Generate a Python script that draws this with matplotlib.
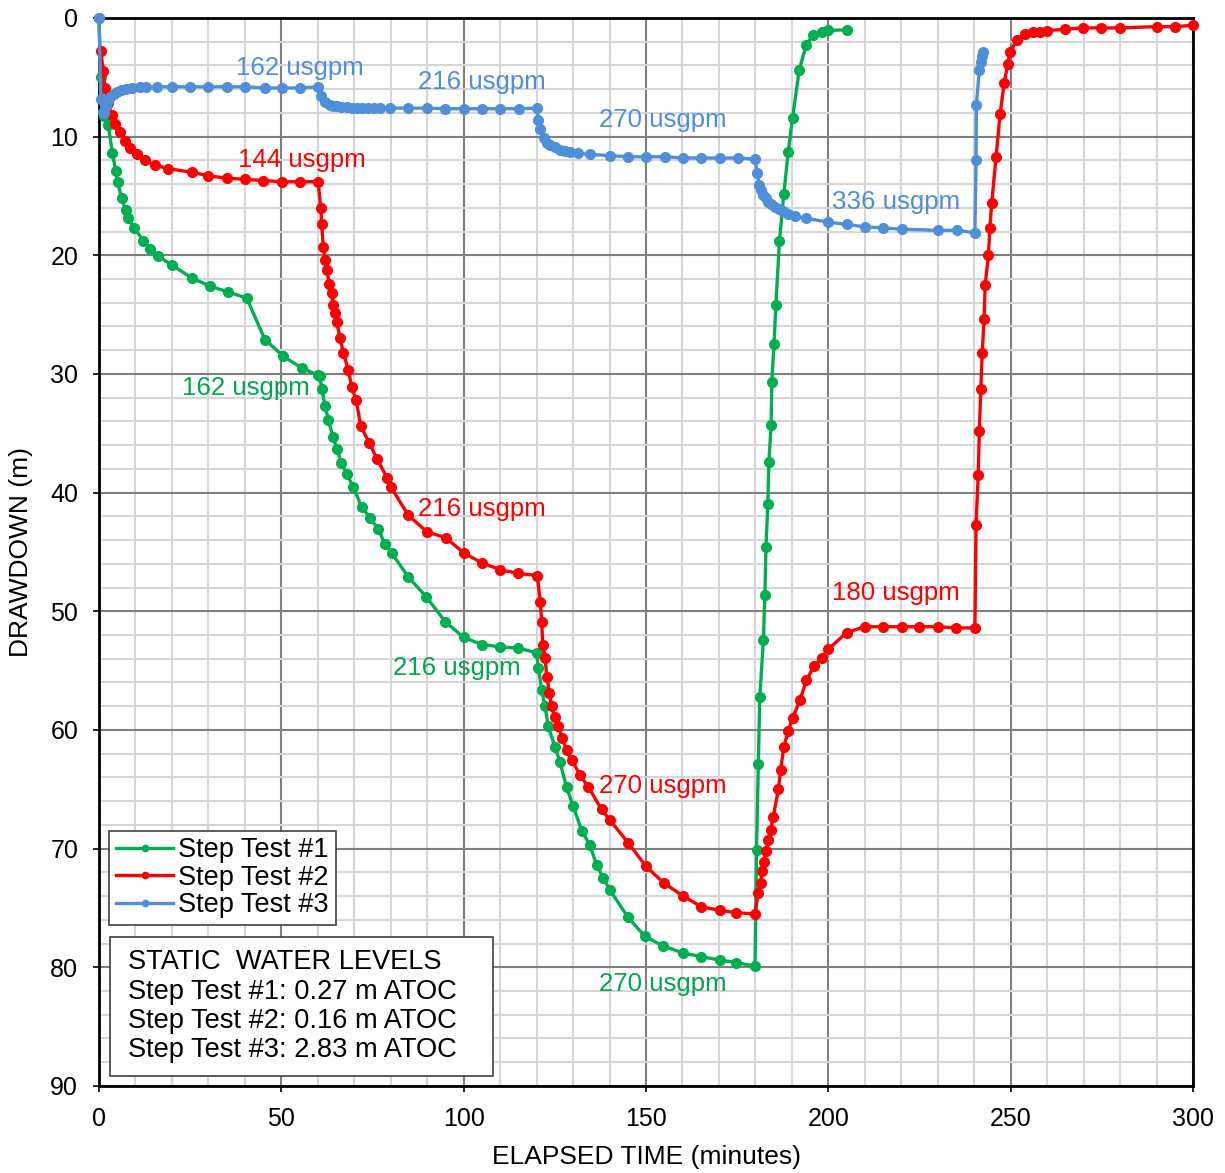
import matplotlib.pyplot as plt
from matplotlib.ticker import MultipleLocator
from matplotlib.patches import Rectangle

plt.rcParams['font.family'] = ['Liberation Sans', 'DejaVu Sans']

# (elapsed minutes, drawdown m)
test1 = [(0, 0), (0.5, 5.0), (1.0, 7.0), (1.5, 8.3), (2.5, 9.0), (3.7, 11.4), (4.6, 12.9),
         (5.1, 13.8), (6.2, 15.2), (7.3, 16.2), (8.0, 16.9), (9.7, 17.7), (12.2, 18.8),
         (14.0, 19.5), (16.3, 20.1), (19.9, 20.8), (25.4, 21.9), (30.4, 22.6), (35.5, 23.1),
         (40.5, 23.6), (45.5, 27.1), (50.5, 28.5), (55.6, 29.5), (60.1, 30.1),
         (60.6, 30.2), (61.1, 31.3), (62.0, 32.7), (62.9, 33.9), (64.2, 35.3), (65.2, 36.3),
         (66.5, 37.5), (67.9, 38.4), (69.7, 39.5), (72.0, 41.2), (74.3, 42.1), (76.6, 43.1),
         (78.4, 44.3), (80.3, 45.1), (84.8, 47.1), (89.8, 48.8), (95.0, 50.9), (100.0, 52.2),
         (105.0, 52.8), (110.0, 53.0), (115.0, 53.1), (120.0, 53.5),
         (120.5, 54.8), (121.4, 56.6), (122.3, 58.0), (123.2, 59.7), (125.0, 61.4),
         (126.4, 62.7), (128.2, 64.8), (130.0, 66.4), (132.4, 68.5), (134.6, 69.7),
         (136.5, 71.4), (138.3, 72.5), (140.1, 73.5), (145.1, 75.8), (149.7, 77.4),
         (154.7, 78.2), (160.2, 78.8), (165.2, 79.1), (170.3, 79.4), (174.8, 79.6), (179.9, 79.9),
         (180.3, 70.1), (180.8, 62.9), (181.2, 57.2), (182.2, 52.4), (182.6, 48.6),
         (182.9, 44.6), (183.4, 41.0), (183.7, 37.4), (184.3, 34.3), (184.5, 30.7),
         (185.1, 27.5), (185.6, 24.2), (186.6, 18.8), (187.8, 14.8), (189.0, 11.3),
         (190.2, 8.4), (192.0, 4.4), (193.9, 2.3), (195.9, 1.4), (198.2, 1.15),
         (200.0, 1.05), (205.0, 1.0)]

test2 = [(0.5, 2.8), (1.2, 4.5), (1.6, 5.9), (2.6, 7.2), (3.5, 8.2), (4.4, 8.9), (5.8, 9.6),
         (7.1, 10.4), (8.5, 11.0), (10.3, 11.5), (12.6, 12.0), (15.4, 12.4), (19.0, 12.7),
         (25.4, 13.0), (30.0, 13.3), (35.0, 13.5), (40.0, 13.6), (45.1, 13.7), (50.1, 13.8),
         (55.1, 13.8), (60.1, 13.8),
         (60.8, 16.0), (61.1, 17.4), (61.5, 19.3), (62.0, 20.4), (62.4, 21.2), (63.2, 22.4),
         (63.8, 23.2), (64.3, 24.2), (64.7, 24.9), (65.2, 25.6), (66.1, 27.0), (67.0, 28.2),
         (68.4, 29.7), (69.3, 31.1), (70.5, 32.2), (71.8, 34.4), (74.1, 35.8), (76.3, 37.2),
         (79.1, 38.8), (80.0, 39.5), (84.8, 41.9), (89.9, 43.3), (95.1, 43.8), (100.1, 45.1),
         (104.9, 45.9), (110.0, 46.5), (115.0, 46.8), (120.2, 47.0),
         (121.0, 49.2), (121.4, 50.9), (121.7, 52.8), (122.3, 53.9), (122.8, 55.5),
         (123.5, 56.9), (124.1, 58.0), (125.0, 58.9), (125.9, 59.7), (127.1, 60.7),
         (128.2, 61.7), (129.6, 62.5), (131.9, 63.8), (134.2, 64.8), (137.8, 66.7),
         (140.1, 67.6), (145.1, 69.5), (150.0, 71.5), (154.9, 72.9), (160.2, 74.0),
         (165.2, 74.9), (170.3, 75.2), (174.8, 75.4), (179.9, 75.5),
         (180.8, 73.7), (181.4, 72.9), (181.9, 71.9), (182.3, 71.1), (182.9, 70.2),
         (183.5, 69.3), (184.2, 68.4), (184.9, 67.3), (186.3, 65.0), (186.9, 63.4),
         (187.8, 61.4), (189.0, 60.1), (190.2, 59.0), (192.2, 57.5), (194.0, 55.8),
         (196.1, 54.6), (198.2, 53.9), (200.0, 53.2), (205.0, 51.8), (210.0, 51.3),
         (215.1, 51.3), (220.1, 51.3), (224.8, 51.3), (230.1, 51.3), (235.0, 51.4), (240.2, 51.4),
         (240.5, 42.7), (241.1, 38.5), (241.4, 34.8), (241.8, 31.3), (242.2, 28.2),
         (242.7, 25.4), (243.0, 22.5), (243.9, 20.0), (244.3, 17.7), (244.8, 15.6),
         (246.0, 11.7), (247.1, 8.1), (248.2, 5.5), (249.2, 3.9), (249.8, 2.9), (251.6, 1.9),
         (253.9, 1.35), (256.2, 1.2), (258.0, 1.15), (259.9, 1.07), (265.0, 0.95),
         (269.9, 0.84), (274.9, 0.84), (279.9, 0.84), (290.0, 0.73), (295.0, 0.73), (300.0, 0.62)]

test3 = [(0, 0), (0.5, 6.8), (1.0, 7.9), (1.5, 8.0), (2.0, 7.4), (2.5, 7.0), (3.0, 6.7),
         (4.0, 6.4), (5.0, 6.2), (6.0, 6.05), (7.5, 5.95), (9.0, 5.9), (11.2, 5.85),
         (13.0, 5.8), (15.8, 5.8), (19.9, 5.8), (25.0, 5.8), (30.0, 5.8), (35.0, 5.8),
         (40.0, 5.8), (45.5, 5.9), (50.1, 5.9), (55.1, 5.9), (60.1, 5.8),
         (61.0, 6.6), (61.9, 7.05), (63.3, 7.3), (64.2, 7.4), (65.2, 7.45), (66.5, 7.5),
         (67.9, 7.5), (69.3, 7.55), (70.7, 7.55), (72.2, 7.6), (73.8, 7.6), (75.5, 7.6),
         (77.0, 7.6), (79.8, 7.6), (84.8, 7.6), (89.9, 7.6), (95.0, 7.65), (100.0, 7.65),
         (105.1, 7.65), (110.0, 7.65), (115.2, 7.65), (120.0, 7.6),
         (120.5, 8.6), (121.0, 9.4), (121.9, 10.1), (122.8, 10.5), (123.7, 10.7),
         (125.0, 10.9), (126.4, 11.1), (127.8, 11.2), (129.1, 11.3), (131.4, 11.4),
         (134.6, 11.5), (140.1, 11.6), (145.0, 11.7), (150.0, 11.7), (155.2, 11.7),
         (160.1, 11.8), (165.0, 11.8), (170.3, 11.8), (175.2, 11.8), (179.9, 11.9),
         (180.5, 13.1), (181.1, 14.1), (181.6, 14.5), (182.2, 14.9), (182.8, 15.2),
         (183.5, 15.5), (184.4, 15.7), (185.4, 15.9), (186.5, 16.1), (187.6, 16.3),
         (189.0, 16.5), (190.8, 16.7), (194.0, 16.9), (200.0, 17.2), (205.0, 17.4),
         (210.0, 17.6), (215.1, 17.7), (220.1, 17.8), (230.1, 17.9), (235.2, 17.9), (240.2, 18.1),
         (240.5, 12.0), (240.6, 7.3), (241.4, 4.4), (241.8, 3.7), (242.0, 3.2), (242.3, 2.9)]

series = [(test1, '#00B050', 'Step Test #1'),
          (test2, '#FF0000', 'Step Test #2'),
          (test3, '#4F8FDA', 'Step Test #3')]

# rate labels: (x, y, text, colour)
rate_labels = [(55.1, 4.2, '162 usgpm', '#4F8FDA'), (105.0, 5.4, '216 usgpm', '#4F8FDA'),
               (154.7, 8.6, '270 usgpm', '#4F8FDA'), (218.5, 15.5, '336 usgpm', '#4F8FDA'),
               (55.7, 12.0, '144 usgpm', '#FF0000'), (105.0, 41.4, '216 usgpm', '#FF0000'),
               (154.7, 64.7, '270 usgpm', '#FF0000'), (218.5, 48.5, '180 usgpm', '#FF0000'),
               (40.3, 31.2, '162 usgpm', '#00A650'), (98.2, 54.8, '216 usgpm', '#00A650'),
               (154.7, 81.4, '270 usgpm', '#00A650')]

static_text = ('STATIC  WATER LEVELS\n'
               'Step Test #1: 0.27 m ATOC\n'
               'Step Test #2: 0.16 m ATOC\n'
               'Step Test #3: 2.83 m ATOC')

fig = plt.figure(figsize=(12.25, 11.73), dpi=100)
ax = fig.add_axes([0.0808, 0.0742, 0.8931, 0.9105])

for data, color, label in series:
    t, d = zip(*data)
    ax.plot(t, d, '-o', color=color, lw=2.4, ms=7, label=label, clip_on=False, zorder=3)

for x, y, s, c in rate_labels:
    ax.text(x, y, s, color=c, fontsize=18.6, ha='center', va='center', zorder=4)

ax.set_xlim(0, 300)
ax.set_ylim(90, 0)
ax.xaxis.set_major_locator(MultipleLocator(50))
ax.xaxis.set_minor_locator(MultipleLocator(10))
ax.yaxis.set_major_locator(MultipleLocator(10))
ax.yaxis.set_minor_locator(MultipleLocator(2))
ax.grid(which='major', color='#7f7f7f', lw=1.5)
ax.grid(which='minor', color='#d6d6d6', lw=1.5)
ax.set_axisbelow(True)
ax.tick_params(which='major', direction='out', length=4, width=1.2, labelsize=18, pad=11)
ax.tick_params(which='minor', length=0)
for sp in ax.spines.values():
    sp.set_color('black')
    sp.set_linewidth(2)

ax.set_xlabel('ELAPSED TIME (minutes)', fontsize=19, labelpad=10)
ax.set_ylabel('DRAWDOWN (m)', fontsize=19, labelpad=12)

leg = ax.legend(loc='upper left', bbox_to_anchor=(0.0095, 0.239), fontsize=19.5,
                fancybox=False, edgecolor='#404040', framealpha=1, borderpad=0.25,
                labelspacing=0.05, handlelength=2.1, handletextpad=0.2,
                borderaxespad=0, numpoints=1, markerscale=0.65)
leg.get_frame().set_linewidth(1.2)

ax.add_patch(Rectangle((0.010, 0.0094), 0.350, 0.130, transform=ax.transAxes,
                       facecolor='white', edgecolor='#404040', lw=1.2, zorder=5))
ax.text(0.0265, 0.128, static_text, transform=ax.transAxes, va='top', ha='left',
        fontsize=19.6, linespacing=1.17, zorder=6)

fig.savefig('out.png', dpi=100)
